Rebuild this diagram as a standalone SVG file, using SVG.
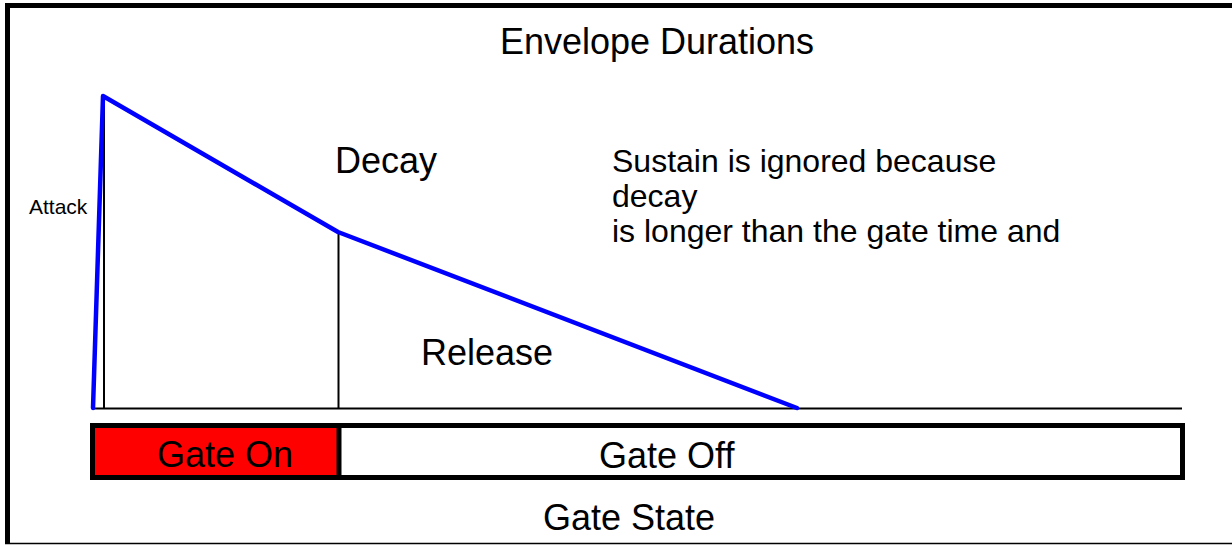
<svg xmlns="http://www.w3.org/2000/svg" width="1232" height="546" viewBox="0 0 1232 546">
<style>
text{font-family:"Liberation Sans",Arial,sans-serif;fill:#000}
.big{font-size:36px}
.mid{font-size:32px}
.small{font-size:21px}
.env{fill:none;stroke:#0000ff;stroke-width:4.5;stroke-linecap:round;stroke-linejoin:round}
.thin{stroke:#000;stroke-width:2;fill:none}
</style>
<rect x="0" y="0" width="1232" height="546" fill="#fff"/>
<g id="frame">
<line x1="5" y1="5.5" x2="1232" y2="5.5" stroke="#000" stroke-width="5"/>
<line x1="7.5" y1="3" x2="7.5" y2="544" stroke="#000" stroke-width="5"/>
<line x1="5" y1="543.5" x2="1232" y2="543.5" stroke="#000" stroke-width="1.5"/>
</g>
<g id="title"><text class="big" x="657" y="54" text-anchor="middle">Envelope Durations</text></g>
<g id="connectors">
<line class="thin" x1="92" y1="408.5" x2="1182" y2="408.5"/>
<line class="thin" x1="104" y1="96" x2="104" y2="408"/>
<line class="thin" x1="338.5" y1="232" x2="338.5" y2="408"/>
<polyline class="env" points="93,408 103,96 338,232 797,408"/>
</g>
<g id="attack"><text class="small" x="29" y="214">Attack</text></g>
<g id="decay"><text class="big" x="335" y="173">Decay</text></g>
<g id="note"><text class="mid" x="612" y="172"><tspan x="612">Sustain is ignored because</tspan><tspan x="612" dy="35">decay</tspan><tspan x="612" dy="35">is longer than the gate time and</tspan></text></g>
<g id="release"><text class="big" x="421" y="365">Release</text></g>
<g id="gate">
<rect x="92.5" y="425.5" width="246.5" height="52" fill="#ff0000"/>
<rect x="92.5" y="425.5" width="1090" height="52" fill="none" stroke="#000" stroke-width="5"/>
<line x1="339" y1="425.5" x2="339" y2="477.5" stroke="#000" stroke-width="5"/>
<text class="big" x="157" y="467">Gate On</text>
<text class="big" x="599" y="468">Gate Off</text>
</g>
<g id="gatestate"><text class="big" x="543" y="530">Gate State</text></g>
</svg>
